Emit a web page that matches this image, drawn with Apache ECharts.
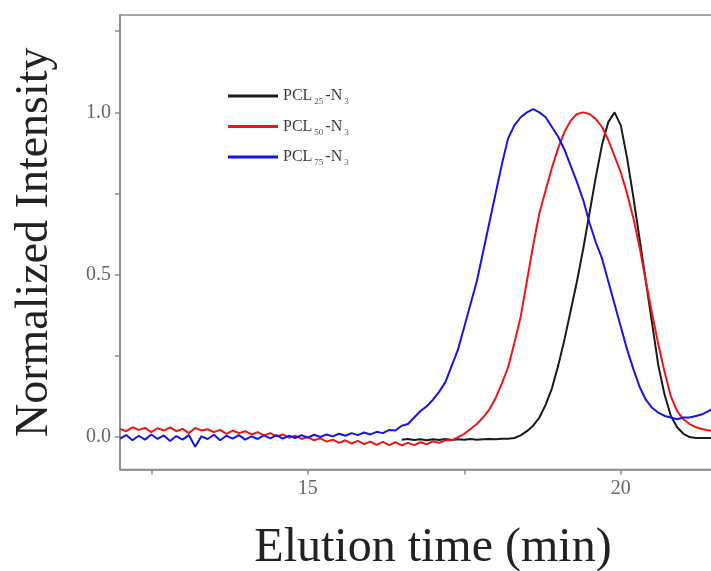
<!DOCTYPE html>
<html>
<head>
<meta charset="utf-8">
<script src="https://cdn.jsdelivr.net/npm/echarts@6/dist/echarts.min.js"></script>
<style>html,body{margin:0;padding:0;background:#fff;overflow:hidden;}#c{width:711px;height:571px;}</style>
</head>
<body>
<div id="c"></div>
<script>
// Elution time grid (min), 12.0 .. 21.5
const elutionTime = [
12.0,12.1,12.2,12.3,12.4,12.5,12.6,12.7,12.8,12.9,
13.0,13.1,13.2,13.3,13.4,13.5,13.6,13.7,13.8,13.9,
14.0,14.1,14.2,14.3,14.4,14.5,14.6,14.7,14.8,14.9,
15.0,15.1,15.2,15.3,15.4,15.5,15.6,15.7,15.8,15.9,
16.0,16.1,16.2,16.3,16.4,16.5,16.6,16.7,16.8,16.9,
17.0,17.1,17.2,17.3,17.4,17.5,17.6,17.7,17.8,17.9,
18.0,18.1,18.2,18.3,18.4,18.5,18.6,18.7,18.8,18.9,
19.0,19.1,19.2,19.3,19.4,19.5,19.6,19.7,19.8,19.9,
20.0,20.1,20.2,20.3,20.4,20.5,20.6,20.7,20.8,20.9,
21.0,21.1,21.2,21.3,21.4,21.5];

// Black trace (starts at 16.5 min)
const blackStart = 45;
const blackValues = [
-0.008,-0.006,-0.009,-0.007,-0.010,-0.007,-0.009,-0.006,-0.009,-0.007,
-0.008,-0.006,-0.008,-0.007,-0.006,-0.007,-0.005,-0.005,
-0.003,0.005,0.018,0.035,0.06,0.10,0.15,0.22,0.30,0.39,
0.48,0.58,0.69,0.80,0.90,0.97,1.00,0.96,0.86,0.74,
0.61,0.48,0.35,0.22,0.13,0.065,0.03,0.01,0.0,-0.003,
-0.003,-0.003,-0.003];

const redValues = [
0.025,0.018,0.030,0.022,0.028,0.015,0.027,0.020,0.030,0.018,
0.025,0.012,0.028,0.020,0.024,0.015,0.022,0.010,0.020,0.012,
0.018,0.008,0.015,0.005,0.012,0.002,0.008,-0.002,0.004,-0.006,
0.000,-0.010,-0.004,-0.014,-0.008,-0.018,-0.010,-0.020,-0.012,-0.022,
-0.014,-0.024,-0.015,-0.025,-0.016,-0.026,-0.018,-0.025,-0.016,-0.022,
-0.013,-0.018,-0.010,-0.010,0.000,0.010,0.025,0.040,0.060,0.085,
0.120,0.165,0.215,0.290,0.370,0.480,0.590,0.690,0.760,0.830,
0.890,0.940,0.975,0.995,1.000,0.995,0.980,0.955,0.915,0.865,
0.815,0.750,0.675,0.585,0.480,0.380,0.285,0.200,0.125,0.080,
0.055,0.040,0.030,0.025,0.020,0.020];

const blueValues = [
-0.005,0.006,-0.010,0.004,-0.008,0.008,-0.006,0.005,-0.012,0.003,
-0.008,0.006,-0.030,0.002,-0.006,0.007,-0.010,0.004,-0.005,0.006,
-0.008,0.002,-0.006,0.005,-0.004,0.006,-0.005,0.004,-0.003,0.006,
-0.002,0.007,0.000,0.008,0.002,0.010,0.004,0.012,0.006,0.014,
0.008,0.016,0.012,0.022,0.020,0.035,0.040,0.060,0.080,0.095,
0.115,0.140,0.170,0.220,0.270,0.340,0.410,0.480,0.570,0.660,
0.750,0.840,0.920,0.960,0.985,1.000,1.010,1.000,0.985,0.955,
0.925,0.885,0.835,0.785,0.730,0.660,0.600,0.550,0.480,0.410,
0.340,0.270,0.210,0.155,0.115,0.090,0.075,0.065,0.060,0.055,
0.060,0.060,0.065,0.070,0.080,0.090];

const seriesNames = ['PCL25-N3', 'PCL50-N3', 'PCL75-N3'];
const seriesSubs = [['25','3'], ['50','3'], ['75','3']];
const xLabelValues = [15, 20];
const xTickValues = [12.5, 15, 17.5, 20];
const yLabelValues = [0, 0.5, 1.0];
const yTickValues = [0, 0.25, 0.5, 0.75, 1.0, 1.25];

function pairs(times, vals) { return vals.map((v, i) => [times[i], v]); }

const chart = echarts.init(document.getElementById('c'), null, {renderer: 'canvas'});
const serif = 'Liberation Serif, Times New Roman, serif';
const axisColor = '#8a8a8a';

chart.setOption({
  animation: false,
  backgroundColor: '#fff',
  grid: {left: 120, top: 15, width: 626, height: 454.5, outerBoundsMode: 'none', containLabel: false,
         show: true, borderColor: axisColor, borderWidth: 1.5},
  legend: {
    orient: 'vertical', left: 223, top: 83, itemWidth: 50, itemHeight: 3, itemGap: 12, icon: 'rect',
    data: seriesNames,
    formatter: function (name) {
      const s = seriesSubs[seriesNames.indexOf(name)];
      return '{m|PCL}{s|' + s[0] + '}{m|-N}{s|' + s[1] + '}';
    },
    textStyle: {
      fontFamily: serif, color: '#3a3a3a', fontSize: 16,
      rich: {
        m: {fontFamily: serif, fontSize: 16, color: '#3a3a3a'},
        s: {fontFamily: serif, fontSize: 9, color: '#555', padding: [12, 2, 0, 2]}
      }
    }
  },
  xAxis: {
    type: 'value', min: 12, max: 22,
    name: 'Elution time (min)', nameLocation: 'middle', nameGap: 55,
    nameTextStyle: {fontFamily: serif, fontSize: 48, color: '#222'},
    axisLine: {show: true, onZero: false, lineStyle: {color: axisColor, width: 1.5}},
    axisTick: {show: true, inside: false, length: 5, customValues: xTickValues, lineStyle: {color: axisColor, width: 1.5}},
    axisLabel: {customValues: xLabelValues, fontFamily: serif, fontSize: 20, color: '#666', margin: 9},
    splitLine: {show: false}
  },
  yAxis: {
    type: 'value', min: -0.1, max: 1.3,
    name: 'Normalized Intensity', nameLocation: 'middle', nameGap: 62,
    nameTextStyle: {fontFamily: serif, fontSize: 46, color: '#222'},
    axisLine: {show: true, onZero: false, lineStyle: {color: axisColor, width: 1.5}},
    axisTick: {show: true, inside: false, length: 5, customValues: yTickValues, lineStyle: {color: axisColor, width: 1.5}},
    axisLabel: {customValues: yLabelValues, formatter: v => v.toFixed(1), fontFamily: serif, fontSize: 20, color: '#666', margin: 9},
    splitLine: {show: false}
  },
  series: [
    {name: seriesNames[0], type: 'line', showSymbol: false, smooth: false, clip: true,
     lineStyle: {color: '#1a1a1a', width: 2}, itemStyle: {color: '#1a1a1a'},
     data: pairs(elutionTime.slice(blackStart), blackValues)},
    {name: seriesNames[1], type: 'line', showSymbol: false, smooth: false, clip: true,
     lineStyle: {color: '#ee1515', width: 2}, itemStyle: {color: '#ee1515'},
     data: pairs(elutionTime, redValues)},
    {name: seriesNames[2], type: 'line', showSymbol: false, smooth: false, clip: true,
     lineStyle: {color: '#1515e8', width: 2}, itemStyle: {color: '#1515e8'},
     data: pairs(elutionTime, blueValues)}
  ]
});
</script>
</body>
</html>
